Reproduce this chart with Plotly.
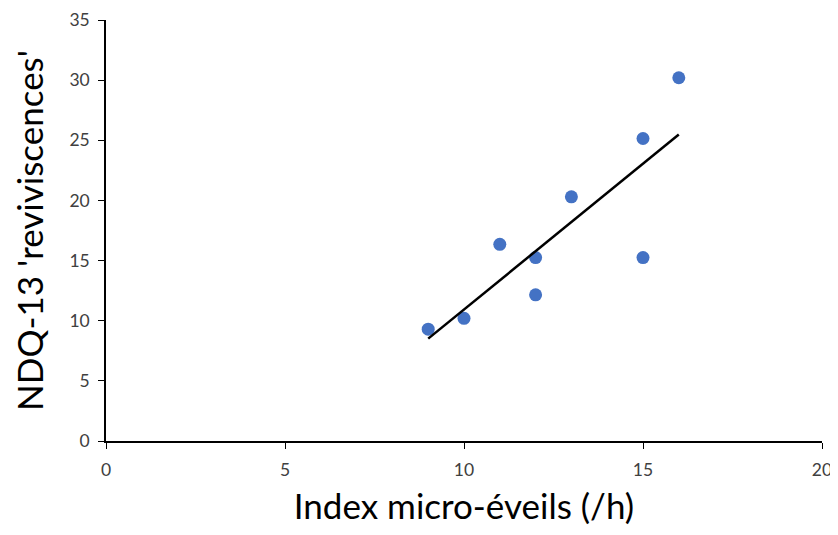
import numpy as np
import plotly.graph_objects as go

micro_eveils = [9, 10, 11, 12, 12, 13, 15, 15, 16]
ndq13 = [9.3, 10.2, 16.35, 15.25, 12.15, 20.3, 25.15, 15.25, 30.2]
x_ticks = [0, 5, 10, 15, 20]
y_ticks = [0, 5, 10, 15, 20, 25, 30, 35]

slope, intercept = np.polyfit(micro_eveils, ndq13, 1)
tx = [min(micro_eveils), max(micro_eveils)]
ty = [slope * v + intercept for v in tx]

fig = go.Figure()
fig.add_trace(go.Scatter(x=micro_eveils, y=ndq13, mode="markers",
                         marker=dict(size=13, color="#4472C4"), showlegend=False))
fig.add_trace(go.Scatter(x=tx, y=ty, mode="lines",
                         line=dict(color="black", width=2.5), showlegend=False))

font = "Lato, 'Open Sans', sans-serif"
fig.update_layout(
    width=830, height=527,
    margin=dict(l=98, r=16, t=12, b=94, autoexpand=False),
    paper_bgcolor="white", plot_bgcolor="white",
    font=dict(family=font, color="#404040"),
    xaxis=dict(range=[0, 20], tickvals=x_ticks, showgrid=False, zeroline=False,
               showline=True, linecolor="black", linewidth=1.5, automargin=False,
               ticks="outside", ticklen=6, tickcolor="black", ticklabelstandoff=6,
               ticklabeloverflow="allow",
               tickfont=dict(size=17.5, color="#404040"),
               title=dict(text="Index micro-éveils (/h)", font=dict(size=35, color="black"), standoff=16)),
    yaxis=dict(range=[0, 35], tickvals=y_ticks, showgrid=False, zeroline=False,
               showline=True, linecolor="black", linewidth=1.5, automargin=False,
               ticks="outside", ticklen=6, tickcolor="black", ticklabelstandoff=5,
               ticklabeloverflow="allow",
               tickfont=dict(size=17.5, color="#404040"),
               title=dict(text="NDQ-13 'reviviscences'", font=dict(size=35, color="black"), standoff=16)),
)
fig.write_html("out.html")
